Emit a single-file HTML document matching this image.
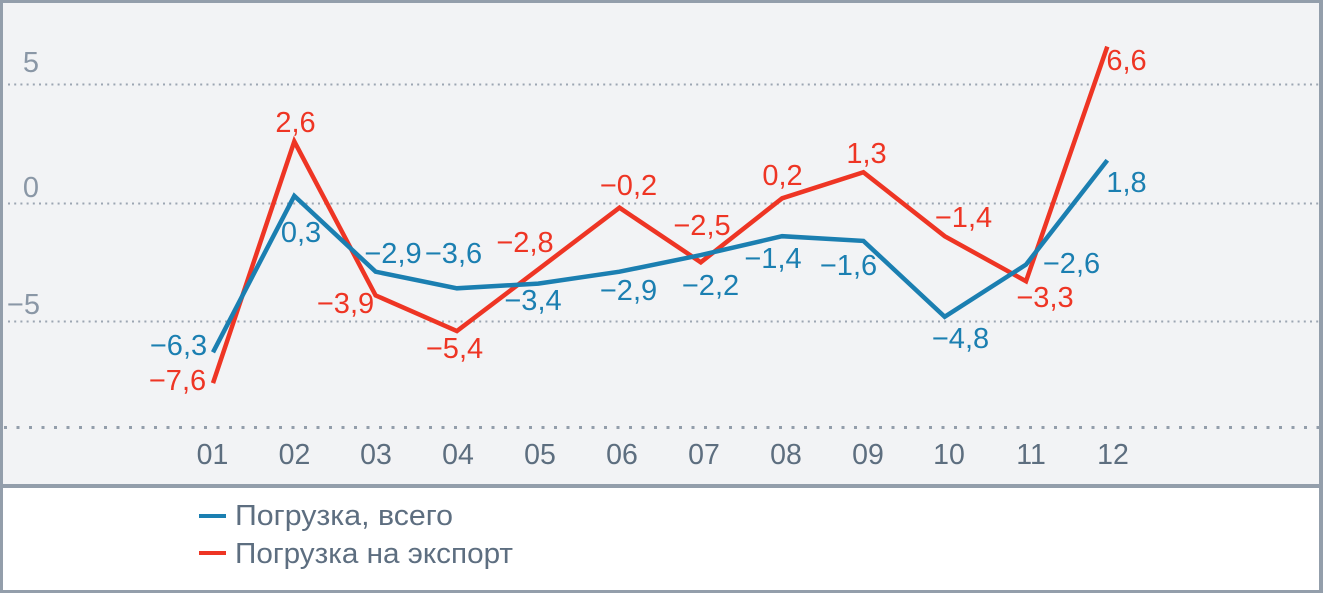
<!DOCTYPE html>
<html><head><meta charset="utf-8"><style>
html,body{margin:0;padding:0;background:#fff;}
svg{display:block;}
text{font-family:"Liberation Sans",sans-serif;}
</style></head><body>
<svg width="1323" height="593" viewBox="0 0 1323 593" xmlns="http://www.w3.org/2000/svg">
<rect x="0" y="0" width="1323" height="593" fill="#939eab"/>
<rect x="3" y="3" width="1316" height="481" fill="#f2f3f5"/>
<rect x="3" y="488" width="1316" height="102" fill="#ffffff"/>
<g stroke="#9ca6b2" stroke-width="2" stroke-dasharray="2 4.2" fill="none">
<line x1="8" y1="84.5" x2="1319" y2="84.5"/>
<line x1="8" y1="203.5" x2="1319" y2="203.5"/>
<line x1="8" y1="321.5" x2="1319" y2="321.5"/>
</g>
<line x1="4" y1="427.5" x2="1319" y2="427.5" stroke="#939eab" stroke-width="3" stroke-dasharray="3 9.5"/>
<g fill="#8a97a6" font-size="29" text-anchor="end">
<text x="39" y="72">5</text>
<text x="39" y="197">0</text>
<text x="40" y="314">−5</text>
</g>
<g fill="#5d6e7f" font-size="28.5" text-anchor="middle">
<text x="212.5" y="464">01</text>
<text x="294.5" y="464">02</text>
<text x="376" y="464">03</text>
<text x="458" y="464">04</text>
<text x="540" y="464">05</text>
<text x="622" y="464">06</text>
<text x="704" y="464">07</text>
<text x="786" y="464">08</text>
<text x="868" y="464">09</text>
<text x="949" y="464">10</text>
<text x="1031" y="464">11</text>
<text x="1113" y="464">12</text>
</g>
<polyline fill="none" stroke="#ee3524" stroke-width="4.5" stroke-linejoin="miter" points="213,383.1 294.3,141.4 375.6,295.4 456.9,331 538.2,269.4 619.5,207.7 700.8,262.3 782.1,198.3 863.4,172.2 944.7,236.2 1026,281.2 1107.3,46.6"/>
<polyline fill="none" stroke="#1b7fb1" stroke-width="4.5" stroke-linejoin="miter" points="213,352.3 294.3,195.9 375.6,271.7 456.9,288.3 538.2,283.6 619.5,271.7 700.8,255.1 782.1,236.2 863.4,240.9 944.7,316.8 1026,264.6 1107.3,160.3"/>
<g fill="#1b7fb1" font-size="29" text-anchor="middle">
<text x="178.5" y="355">−6,3</text>
<text x="301" y="242">0,3</text>
<text x="393" y="263">−2,9</text>
<text x="453.5" y="263">−3,6</text>
<text x="533" y="310">−3,4</text>
<text x="628.5" y="300">−2,9</text>
<text x="710.5" y="295">−2,2</text>
<text x="773" y="268">−1,4</text>
<text x="848.5" y="275">−1,6</text>
<text x="960.5" y="348">−4,8</text>
<text x="1071.5" y="273">−2,6</text>
<text x="1126.5" y="192">1,8</text>
</g>
<g fill="#ee3524" font-size="29" text-anchor="middle">
<text x="177.5" y="390">−7,6</text>
<text x="295.5" y="132">2,6</text>
<text x="345.5" y="313">−3,9</text>
<text x="454.5" y="358">−5,4</text>
<text x="525" y="252">−2,8</text>
<text x="628.5" y="195">−0,2</text>
<text x="702" y="235">−2,5</text>
<text x="782.5" y="185">0,2</text>
<text x="866.5" y="163">1,3</text>
<text x="963.5" y="227">−1,4</text>
<text x="1045" y="307">−3,3</text>
<text x="1126.5" y="70">6,6</text>
</g>
<line x1="199" y1="516" x2="226" y2="516" stroke="#1b7fb1" stroke-width="4"/>
<line x1="199" y1="553" x2="226" y2="553" stroke="#ee3524" stroke-width="4"/>
<g fill="#5d6e80" font-size="29">
<text x="235" y="525" textLength="218" lengthAdjust="spacingAndGlyphs">Погрузка, всего</text>
<text x="235" y="563" textLength="278" lengthAdjust="spacingAndGlyphs">Погрузка на экспорт</text>
</g>
</svg>
</body></html>
